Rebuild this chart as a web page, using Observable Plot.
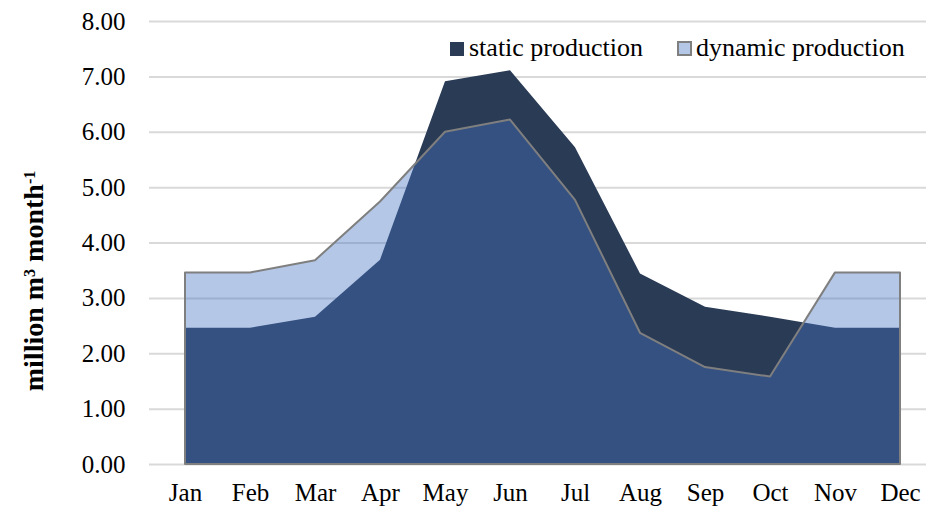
<!DOCTYPE html>
<html>
<head>
<meta charset="utf-8">
<script src="https://cdn.jsdelivr.net/npm/d3@7"></script>
<script src="https://cdn.jsdelivr.net/npm/@observablehq/plot@0.6"></script>
<style>
  html, body { margin: 0; padding: 0; background: #fff; }
  #wrap { position: relative; width: 926px; height: 511px; overflow: hidden; }
</style>
</head>
<body>
<div id="wrap">
  <div id="chart"></div>
</div>
<script>
const months = ["Jan","Feb","Mar","Apr","May","Jun","Jul","Aug","Sep","Oct","Nov","Dec"];
const staticProduction  = [2.46, 2.46, 2.66, 3.69, 6.91, 7.11, 5.72, 3.44, 2.84, 2.66, 2.46, 2.46];
const dynamicProduction = [3.46, 3.46, 3.68, 4.74, 6.00, 6.22, 4.77, 2.37, 1.75, 1.58, 3.46, 3.46];
const yTicks = [0, 1, 2, 3, 4, 5, 6, 7, 8];
const seriesNames = ["static production", "dynamic production"];

const staticData = months.map((m, i) => ({month: m, value: staticProduction[i]}));
const dynamicData = months.map((m, i) => ({month: m, value: dynamicProduction[i]}));

const colStatic = "#2a3b56";
const colDynamic = "#4472c4";
const dynOpacity = 0.4;
const serif = "'Liberation Serif', 'Times New Roman', serif";

const chart = Plot.plot({
  width: 926,
  height: 511,
  marginLeft: 149,
  marginRight: 0,
  marginTop: 21,
  marginBottom: 47,
  style: { fontFamily: serif, fontSize: "25px", color: "#000", background: "#fff" },
  x: { type: "point", domain: months, range: [182, 902], padding: 0, label: null },
  y: { domain: [0, 8], label: null },
  marks: [
    Plot.ruleY(yTicks, { stroke: "#d9d9d9", strokeWidth: 2 }),
    Plot.areaY(staticData, { x: "month", y: "value", fill: colStatic }),
    Plot.areaY(dynamicData, { x: "month", y: "value", fill: colDynamic, fillOpacity: dynOpacity, stroke: "#7f7f7f", strokeWidth: 2 }),
    Plot.axisX({ tickSize: 0, tickPadding: 19, fontSize: 25, label: null }),
    Plot.axisY({ ticks: yTicks, tickFormat: d3.format(".2f"), tickSize: 0, tickPadding: 24, fontSize: 25, label: null })
  ]
});
document.getElementById("chart").appendChild(chart);

const svg = d3.select(chart);

// y-axis title with superscripts
const t = svg.append("text")
  .attr("transform", "translate(43,281) rotate(-90)")
  .attr("text-anchor", "middle")
  .attr("font-family", serif)
  .attr("font-weight", "bold")
  .attr("font-size", 28)
  .attr("fill", "#000");
t.append("tspan").text("million m");
t.append("tspan").attr("baseline-shift", "super").attr("font-size", 16).text("3");
t.append("tspan").text(" month");
t.append("tspan").attr("baseline-shift", "super").attr("font-size", 16).text("-1");

// legend (inside the svg, top right)
const sw = [
  { fill: colStatic, stroke: "none" },
  { fill: "#b4c7e7", stroke: "#7f7f7f" }
];
const lg = svg.append("g")
  .attr("font-family", serif)
  .attr("font-size", 26)
  .attr("text-anchor", "start")
  .attr("fill", "#000");
let lx = 450;
seriesNames.forEach((name, i) => {
  const outlined = sw[i].stroke !== "none";
  lg.append("rect")
    .attr("x", outlined ? lx + 1 : lx).attr("y", outlined ? 42 : 42)
    .attr("width", outlined ? 13 : 14).attr("height", outlined ? 13 : 14)
    .attr("fill", sw[i].fill).attr("stroke", sw[i].stroke).attr("stroke-width", 2);
  const tx = lg.append("text").attr("x", lx + 19).attr("y", 56).attr("text-anchor", "start").text(name);
  const len = tx.node().getComputedTextLength();
  lx = lx + 19 + len + 34;
});
</script>
</body>
</html>
